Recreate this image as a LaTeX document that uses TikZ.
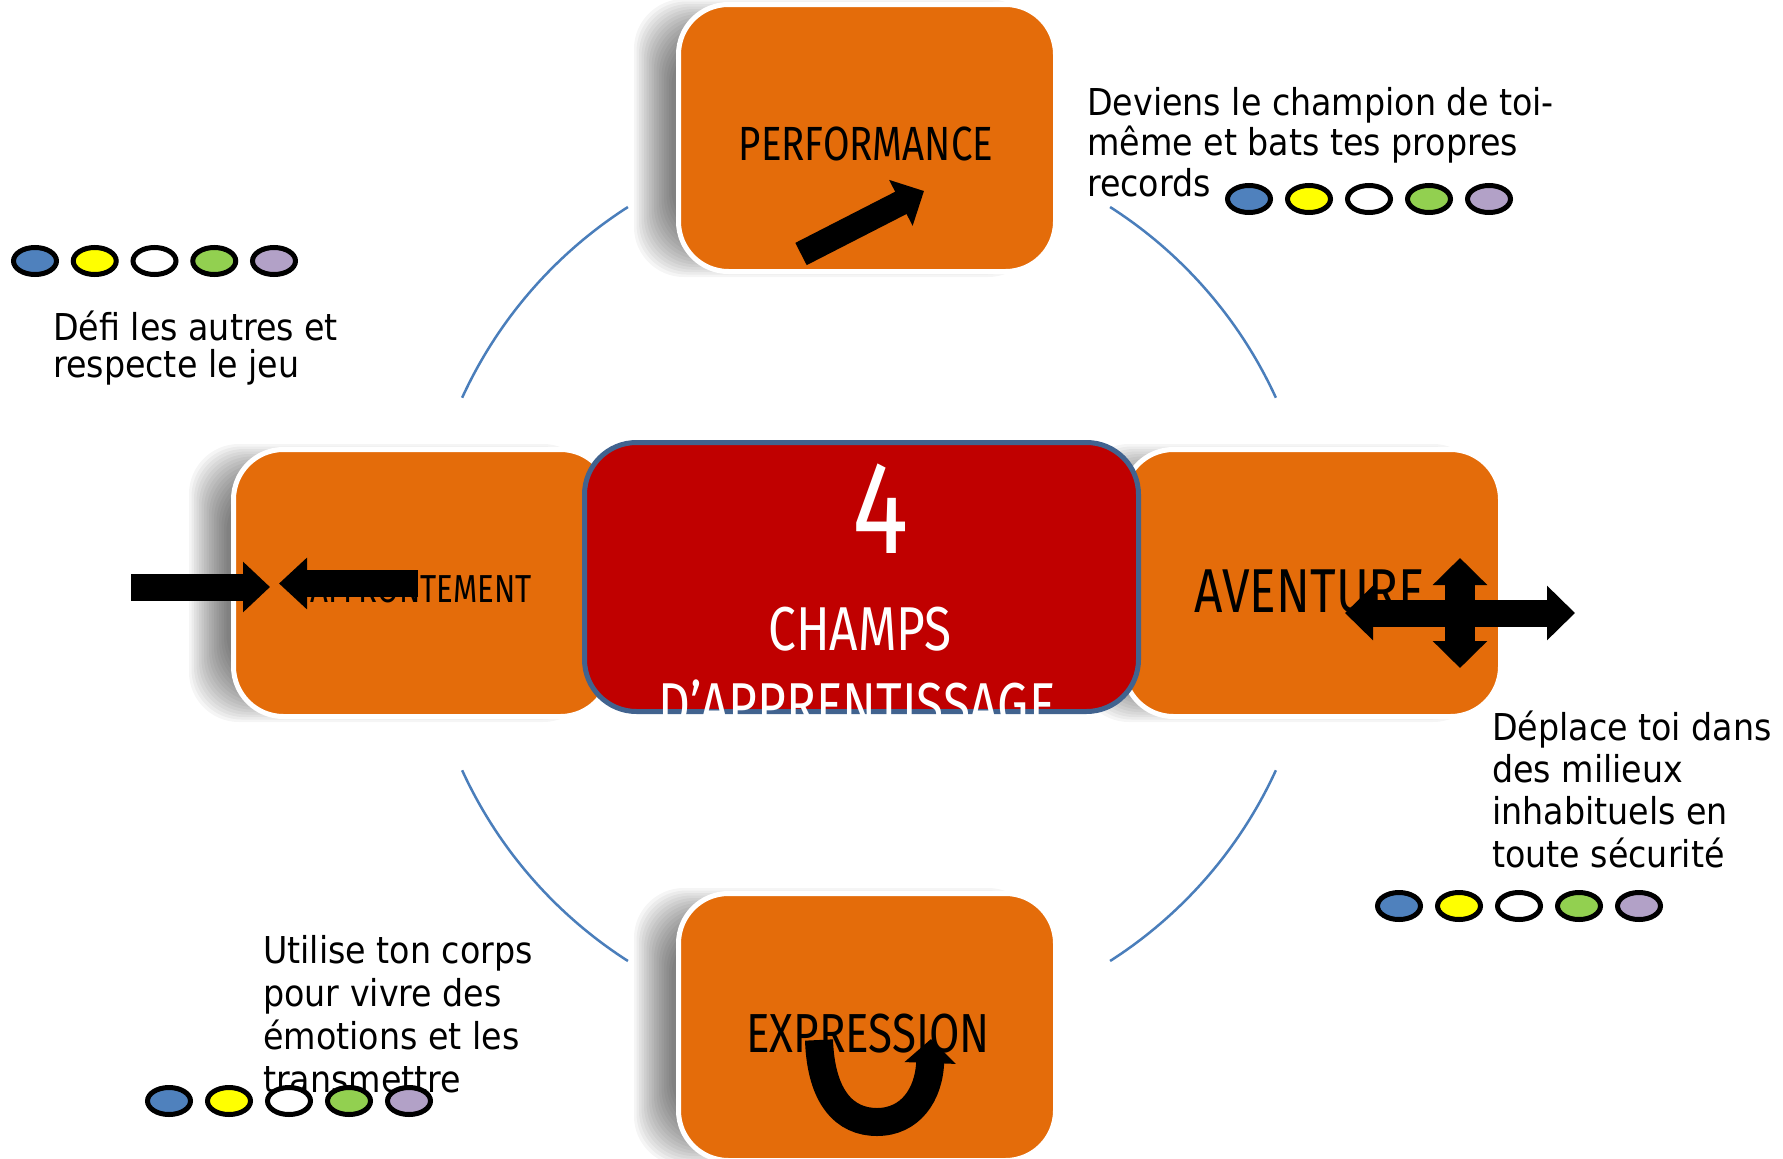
\documentclass[tikz,border=0pt]{standalone}
\usepackage{fontspec}
\setmainfont{DejaVu Sans}
\newfontfamily\bodyfont[FakeStretch=0.9]{DejaVu Sans}
\newfontfamily\handfont[FakeStretch=0.8]{Fira Sans}
\usetikzlibrary{arrows.meta,shapes.geometric}
\definecolor{boxorange}{HTML}{E46C0A}
\definecolor{boxred}{HTML}{C00000}
\definecolor{boxblue}{HTML}{41638F}
\definecolor{arcblue}{HTML}{4A7EBB}
\definecolor{dotblue}{HTML}{4F81BD}
\definecolor{dotyellow}{HTML}{FFFF00}
\definecolor{dotgreen}{HTML}{92D050}
\definecolor{dotlilac}{HTML}{B2A1C7}
\newcommand\boxshadow[4]{%
  \foreach \k in {0,...,15}{%
    \fill[black,opacity=0.04,rounded corners=50pt]
      ({#1-42+2.5*\k},{#2-4+2.5*\k}) rectangle ({#3-20},{#4+4-2.5*\k});
  }}
\tikzset{
  ringarc/.style={draw=arcblue,line width=2.5pt},
  fieldbox/.style={draw=white,line width=5pt,fill=boxorange,rounded corners=50pt,
    minimum width=377pt,minimum height=267pt,inner sep=0pt},
  corebox/.style={draw=boxblue,line width=5pt,fill=boxred,rounded corners=52pt,
    minimum width=554pt,minimum height=269pt,inner sep=0pt},
  handlabel/.style={anchor=base,inner sep=0pt,text=black},
  corelabel/.style={anchor=base,inner sep=0pt,text=white},
  bodytext/.style={anchor=base west,inner sep=0pt,align=left,text=black},
  dot/.style={ellipse,draw=black,line width=5pt,minimum width=43pt,minimum height=27pt,inner sep=0pt},
  fatarrow/.style n args={3}{draw=black,line width=#1,-{Triangle[width=#2,length=#3]}},
  fatdouble/.style n args={3}{draw=black,line width=#1,{Triangle[width=#2,length=#3]}-{Triangle[width=#2,length=#3]}},
}
\begin{document}
\begin{tikzpicture}[x=1pt,y=-1pt]
\useasboundingbox (0,0) rectangle (1783,1159);
\fill[white] (0,0) rectangle (1783,1159);

% ring arcs
\draw[ringarc] (869,584) ++(-122.6:447.5) arc[start angle=-122.6,end angle=-155.4,radius=447.5];
\draw[ringarc] (869,584) ++(-57.4:447.5) arc[start angle=-57.4,end angle=-24.6,radius=447.5];
\draw[ringarc] (869,584) ++(155.4:447.5) arc[start angle=155.4,end angle=122.6,radius=447.5];
\draw[ringarc] (869,584) ++(24.6:447.5) arc[start angle=24.6,end angle=57.4,radius=447.5];

% shadows
\boxshadow{676}{3}{1058}{273}
\boxshadow{676}{892}{1058}{1162}
\boxshadow{231}{448}{613}{718}
\boxshadow{1121}{448}{1503}{718}

% boxes
\node[fieldbox] (perf) at (867,138) {};
\node[fieldbox] (expr) at (867,1027) {};
\node[fieldbox] (affr) at (422,583) {};
\node[fieldbox] (aven) at (1312,583) {};
\node[corebox] (core) at (861.5,577) {};

% box labels
\node[handlabel,font={\handfont\fontsize{48}{50}\selectfont}] (perflabel) at (866,160) {PERFORMANCE};
\node[handlabel,font={\handfont\fontsize{39}{40}\selectfont}] (affrlabel) at (421,602) {AFFRONTEMENT};
\node[handlabel,font={\handfont\fontsize{62}{64}\selectfont}] (avenlabel) at (1310,612) {AVENTURE};
\node[handlabel,font={\handfont\fontsize{55}{56}\selectfont}] (exprlabel) at (868,1052) {EXPRESSION};
\node[corelabel,font={\handfont\fontsize{132}{132}\selectfont}] (corefour) at (881,553) {4};
\node[corelabel,font={\handfont\fontsize{62}{64}\selectfont}] (corechamps) at (860,650) {CHAMPS};
\node[corelabel,font={\handfont\fontsize{62}{64}\selectfont}] (coreappr) at (857,726) {D’APPRENTISSAGE};

% icon arrows
\coordinate (pa1) at (801,254); \coordinate (pa2) at (924,191);
\draw[fatarrow={25pt}{50pt}{26pt}] (pa1) -- (pa2);

\coordinate (fa1) at (131,587); \coordinate (fa2) at (270,587);
\draw[fatarrow={27pt}{49pt}{27pt}] (fa1) -- (fa2);
\coordinate (fb1) at (418,583.5); \coordinate (fb2) at (279,583.5);
\draw[fatarrow={27pt}{50pt}{28pt}] (fb1) -- (fb2);

\coordinate (va1) at (1460,558); \coordinate (va2) at (1460,668);
\draw[fatdouble={30pt}{53pt}{27pt}] (va1) -- (va2);
\coordinate (ha1) at (1345,613); \coordinate (ha2) at (1575,613);
\draw[fatdouble={27pt}{53pt}{28pt}] (ha1) -- (ha2);

\coordinate (ua1) at (819,1040); \coordinate (ua2) at (931,1039);
\draw[fatarrow={28pt}{50pt}{24pt}] (ua1) .. controls (821,1098) and (845,1122) .. (877,1122)
  .. controls (910,1122) and (929,1095) .. (ua2);

% texts (anchored at the baseline of their last line)
\node[bodytext,font={\bodyfont\fontsize{37}{40.5}\selectfont}] (perftext) at (1087,196)
  {Deviens le champion de toi-\\même et bats tes propres\\records};
\node[bodytext,font={\bodyfont\fontsize{37}{37}\selectfont}] (affrtext) at (53,377)
  {Défi les autres et\\respecte le jeu};
\node[bodytext,font={\bodyfont\fontsize{37}{42.3}\selectfont}] (aventext) at (1492,867)
  {Déplace toi dans\\des milieux\\inhabituels en\\toute sécurité};
\node[bodytext,font={\bodyfont\fontsize{37}{43}\selectfont}] (exprtext) at (263,1092)
  {Utilise ton corps\\pour vivre des\\émotions et les\\transmettre};

% dots
\foreach \c [count=\i] in {dotblue,dotyellow,white,dotgreen,dotlilac}{
  \node[dot,fill=\c] (tr\i) at ({1249+60*(\i-1)},199) {};
  \node[dot,fill=\c] (tl\i) at ({35+59.75*(\i-1)},261) {};
  \node[dot,fill=\c] (br\i) at ({1399+60*(\i-1)},906) {};
  \node[dot,fill=\c] (bl\i) at ({169+60*(\i-1)},1101) {};
}
\end{tikzpicture}
\end{document}
